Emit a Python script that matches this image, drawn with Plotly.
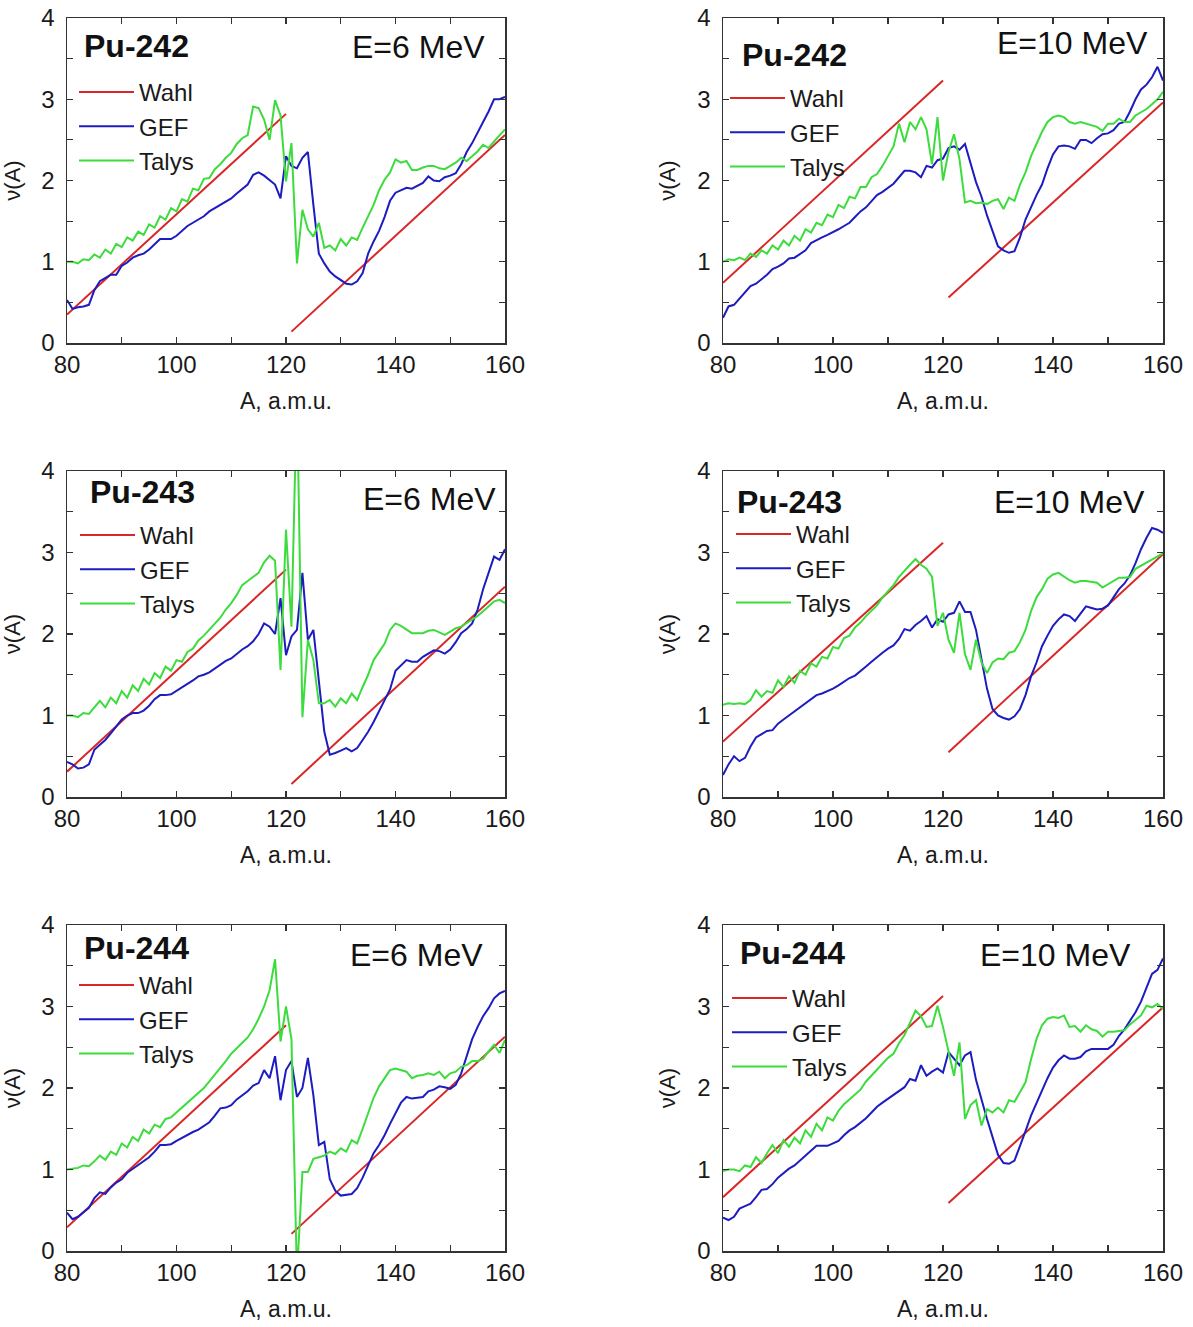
import plotly.graph_objects as go

# ---------------- data ----------------
A = list(range(80, 161))  # mass number A, a.m.u.

wahl_A = [80, 120, None, 121, 160]

# Pu-242, E=6 MeV
wahl_242_6 = [0.35, 2.82, None, 0.14, 2.56]
gef_242_6 = [0.53, 0.42, 0.44, 0.45, 0.47, 0.65, 0.76, 0.80, 0.84, 0.84,
             0.95, 0.99, 1.05, 1.08, 1.10, 1.15, 1.22, 1.28, 1.28, 1.28,
             1.32, 1.38, 1.44, 1.48, 1.52, 1.56, 1.62, 1.66, 1.70, 1.74,
             1.78, 1.84, 1.90, 1.95, 2.07, 2.10, 2.06, 2.00, 1.95, 1.78,
             2.30, 2.18, 2.15, 2.28, 2.35, 1.70, 1.10, 0.98, 0.88, 0.82,
             0.77, 0.73, 0.72, 0.76, 0.86, 1.10, 1.25, 1.38, 1.55, 1.75,
             1.85, 1.88, 1.91, 1.90, 1.94, 1.97, 2.05, 2.00, 1.99, 2.04,
             2.06, 2.09, 2.20, 2.35, 2.46, 2.60, 2.72, 2.85, 3.00, 3.00,
             3.03]
talys_242_6 = [1.00, 1.00, 0.98, 1.03, 1.02, 1.09, 1.05, 1.15, 1.10, 1.22,
               1.18, 1.30, 1.26, 1.37, 1.33, 1.46, 1.42, 1.56, 1.52, 1.66,
               1.62, 1.77, 1.74, 1.90, 1.88, 2.02, 2.03, 2.14, 2.20, 2.28,
               2.34, 2.45, 2.52, 2.56, 2.91, 2.89, 2.75, 2.50, 2.99, 2.80,
               1.99, 2.46, 0.98, 1.64, 1.40, 1.31, 1.48, 1.17, 1.20, 1.14,
               1.28, 1.20, 1.30, 1.27, 1.42, 1.55, 1.70, 1.88, 2.01, 2.10,
               2.26, 2.22, 2.24, 2.13, 2.13, 2.16, 2.18, 2.18, 2.15, 2.14,
               2.18, 2.22, 2.28, 2.24, 2.30, 2.36, 2.44, 2.40, 2.48, 2.55,
               2.63]

# Pu-242, E=10 MeV
wahl_242_10 = [0.74, 3.23, None, 0.56, 2.96]
gef_242_10 = [0.31, 0.45, 0.47, 0.55, 0.62, 0.70, 0.73, 0.78, 0.84, 0.91,
              0.94, 0.98, 1.04, 1.05, 1.10, 1.14, 1.23, 1.27, 1.30, 1.33,
              1.36, 1.40, 1.44, 1.48, 1.55, 1.62, 1.67, 1.74, 1.82, 1.86,
              1.91, 1.96, 2.04, 2.12, 2.12, 2.10, 2.04, 2.18, 2.16, 2.25,
              2.27, 2.40, 2.42, 2.38, 2.45, 2.22, 1.98, 1.80, 1.57, 1.38,
              1.19, 1.14, 1.11, 1.13, 1.30, 1.52, 1.68, 1.82, 1.95, 2.15,
              2.32, 2.42, 2.43, 2.42, 2.39, 2.50, 2.50, 2.46, 2.52, 2.57,
              2.58, 2.62, 2.70, 2.72, 2.85, 3.00, 3.12, 3.18, 3.27, 3.40,
              3.23]
talys_242_10 = [1.00, 1.03, 1.02, 1.05, 1.02, 1.10, 1.06, 1.14, 1.10, 1.20,
                1.15, 1.26, 1.20, 1.32, 1.26, 1.40, 1.36, 1.48, 1.45, 1.58,
                1.55, 1.70, 1.66, 1.80, 1.78, 1.92, 1.92, 2.04, 2.08, 2.18,
                2.30, 2.42, 2.70, 2.47, 2.72, 2.63, 2.78, 2.63, 2.20, 2.78,
                2.00, 2.35, 2.57, 2.26, 1.73, 1.75, 1.72, 1.73, 1.71, 1.75,
                1.77, 1.65, 1.79, 1.75, 1.95, 2.10, 2.30, 2.45, 2.60, 2.72,
                2.78, 2.80, 2.78, 2.72, 2.70, 2.72, 2.70, 2.68, 2.66, 2.61,
                2.70, 2.70, 2.76, 2.72, 2.72, 2.80, 2.84, 2.88, 2.94, 3.00,
                3.09]

# Pu-243, E=6 MeV
wahl_243_6 = [0.31, 2.79, None, 0.16, 2.58]
gef_243_6 = [0.43, 0.40, 0.35, 0.36, 0.40, 0.58, 0.64, 0.70, 0.78, 0.87,
             0.95, 1.00, 1.03, 1.03, 1.06, 1.12, 1.20, 1.25, 1.25, 1.26,
             1.30, 1.34, 1.38, 1.43, 1.48, 1.50, 1.53, 1.58, 1.63, 1.67,
             1.70, 1.76, 1.81, 1.85, 1.91, 2.00, 2.13, 2.09, 2.00, 2.44,
             1.74, 1.97, 2.05, 2.75, 1.93, 2.05, 1.40, 0.80, 0.52, 0.54,
             0.57, 0.60, 0.56, 0.60, 0.70, 0.80, 0.92, 1.05, 1.18, 1.32,
             1.55, 1.62, 1.68, 1.66, 1.66, 1.72, 1.76, 1.80, 1.79, 1.76,
             1.81, 1.90, 2.01, 2.06, 2.13, 2.30, 2.55, 2.75, 2.95, 2.91,
             3.04]
talys_243_6 = [1.00, 1.00, 0.98, 1.03, 1.02, 1.10, 1.18, 1.10, 1.22, 1.15,
               1.30, 1.22, 1.37, 1.30, 1.45, 1.38, 1.52, 1.46, 1.60, 1.55,
               1.68, 1.66, 1.78, 1.82, 1.92, 1.98, 2.05, 2.13, 2.20, 2.30,
               2.38, 2.48, 2.60, 2.65, 2.70, 2.75, 2.88, 2.96, 2.90, 1.56,
               3.28, 2.09, 5.00, 0.98, 1.93, 1.68, 1.15, 1.15, 1.19, 1.11,
               1.21, 1.15, 1.27, 1.19, 1.35, 1.50, 1.68, 1.78, 1.88, 2.05,
               2.13, 2.10, 2.05, 2.01, 2.01, 2.01, 2.04, 2.05, 2.02, 1.99,
               2.03, 2.07, 2.09, 2.13, 2.17, 2.22, 2.28, 2.34, 2.40, 2.42,
               2.38]

# Pu-243, E=10 MeV
wahl_243_10 = [0.68, 3.12, None, 0.55, 2.98]
gef_243_10 = [0.27, 0.40, 0.50, 0.44, 0.48, 0.62, 0.73, 0.77, 0.81, 0.82,
              0.90, 0.95, 1.00, 1.05, 1.09, 1.14, 1.19, 1.25, 1.27, 1.30,
              1.33, 1.37, 1.42, 1.46, 1.49, 1.54, 1.60, 1.66, 1.72, 1.77,
              1.82, 1.86, 1.94, 2.06, 2.04, 2.11, 2.16, 2.22, 2.08, 2.18,
              2.15, 2.24, 2.26, 2.40, 2.27, 2.27, 2.05, 1.70, 1.33, 1.08,
              1.00, 0.97, 0.95, 0.99, 1.08, 1.25, 1.48, 1.65, 1.85, 1.98,
              2.10, 2.18, 2.24, 2.22, 2.16, 2.25, 2.34, 2.32, 2.30, 2.31,
              2.35, 2.45, 2.55, 2.62, 2.72, 2.87, 3.04, 3.18, 3.30, 3.28,
              3.24]
talys_243_10 = [1.13, 1.15, 1.14, 1.15, 1.14, 1.19, 1.31, 1.23, 1.30, 1.28,
                1.43, 1.35, 1.48, 1.40, 1.55, 1.50, 1.64, 1.60, 1.72, 1.70,
                1.84, 1.82, 1.95, 1.98, 2.08, 2.14, 2.22, 2.28, 2.35, 2.45,
                2.52, 2.60, 2.70, 2.78, 2.85, 2.92, 2.85, 2.80, 2.70, 2.10,
                2.26, 1.93, 1.77, 2.26, 1.75, 1.56, 1.93, 1.65, 1.52, 1.65,
                1.70, 1.69, 1.77, 1.79, 1.90, 2.05, 2.28, 2.45, 2.55, 2.68,
                2.73, 2.75, 2.70, 2.66, 2.63, 2.65, 2.65, 2.64, 2.63, 2.57,
                2.61, 2.64, 2.69, 2.69, 2.70, 2.80, 2.84, 2.87, 2.92, 2.95,
                2.99]

# Pu-244, E=6 MeV
wahl_244_6 = [0.29, 2.77, None, 0.21, 2.63]
gef_244_6 = [0.47, 0.39, 0.42, 0.47, 0.53, 0.65, 0.72, 0.70, 0.78, 0.84,
             0.88, 0.96, 1.01, 1.06, 1.11, 1.15, 1.22, 1.30, 1.30, 1.31,
             1.35, 1.39, 1.43, 1.46, 1.49, 1.53, 1.58, 1.66, 1.75, 1.76,
             1.79, 1.86, 1.91, 1.96, 2.03, 2.06, 2.22, 2.12, 2.39, 1.85,
             2.22, 2.33, 1.89, 2.00, 2.37, 1.91, 1.30, 1.34, 0.88, 0.74,
             0.68, 0.69, 0.70, 0.77, 0.90, 1.05, 1.20, 1.30, 1.42, 1.56,
             1.70, 1.82, 1.89, 1.87, 1.88, 1.89, 1.96, 1.98, 2.02, 2.01,
             1.99, 2.04, 2.18, 2.40, 2.60, 2.75, 2.88, 2.98, 3.10, 3.16,
             3.19]
talys_244_6 = [1.00, 1.01, 1.02, 1.05, 1.04, 1.10, 1.17, 1.12, 1.22, 1.18,
               1.32, 1.27, 1.40, 1.35, 1.49, 1.44, 1.55, 1.52, 1.62, 1.64,
               1.70, 1.76, 1.82, 1.88, 1.95, 2.00, 2.08, 2.16, 2.24, 2.33,
               2.42, 2.49, 2.55, 2.62, 2.72, 2.85, 3.00, 3.20, 3.58, 2.57,
               3.00, 2.60, -0.30, 0.97, 0.97, 1.13, 1.15, 1.17, 1.22, 1.19,
               1.26, 1.22, 1.36, 1.32, 1.50, 1.70, 1.88, 2.02, 2.12, 2.22,
               2.24, 2.22, 2.20, 2.12, 2.15, 2.16, 2.18, 2.16, 2.20, 2.12,
               2.18, 2.20, 2.26, 2.28, 2.33, 2.33, 2.36, 2.45, 2.53, 2.43,
               2.59]

# Pu-244, E=10 MeV
wahl_244_10 = [0.66, 3.13, None, 0.59, 2.99]
gef_244_10 = [0.41, 0.38, 0.42, 0.52, 0.55, 0.58, 0.66, 0.75, 0.76, 0.82,
              0.90, 0.96, 1.01, 1.05, 1.11, 1.18, 1.24, 1.29, 1.29, 1.29,
              1.32, 1.35, 1.42, 1.48, 1.52, 1.57, 1.63, 1.70, 1.77, 1.82,
              1.87, 1.91, 1.96, 2.01, 2.11, 2.09, 2.28, 2.15, 2.20, 2.24,
              2.19, 2.44, 2.36, 2.28, 2.40, 2.44, 2.10, 1.85, 1.62, 1.40,
              1.18, 1.08, 1.07, 1.11, 1.28, 1.47, 1.66, 1.82, 1.98, 2.12,
              2.25, 2.34, 2.40, 2.36, 2.36, 2.38, 2.45, 2.48, 2.48, 2.48,
              2.48, 2.53, 2.64, 2.72, 2.82, 2.93, 3.06, 3.22, 3.40, 3.45,
              3.59]
talys_244_10 = [0.98, 1.00, 1.00, 0.98, 1.05, 1.03, 1.15, 1.08, 1.20, 1.30,
                1.20, 1.36, 1.28, 1.39, 1.32, 1.48, 1.40, 1.56, 1.48, 1.64,
                1.60, 1.72, 1.80, 1.86, 1.91, 1.98, 2.08, 2.15, 2.22, 2.30,
                2.37, 2.42, 2.55, 2.65, 2.80, 2.95, 2.88, 2.75, 2.76, 3.01,
                2.75, 2.46, 2.15, 2.56, 1.62, 1.79, 1.85, 1.54, 1.74, 1.70,
                1.76, 1.70, 1.85, 1.83, 1.95, 2.07, 2.35, 2.60, 2.77, 2.85,
                2.87, 2.86, 2.89, 2.75, 2.76, 2.69, 2.77, 2.72, 2.70, 2.63,
                2.69, 2.69, 2.70, 2.71, 2.78, 2.83, 2.89, 3.01, 2.99, 3.03,
                2.97]

isotopes = ["Pu-242", "Pu-242", "Pu-243", "Pu-243", "Pu-244", "Pu-244"]
energies = ["E=6 MeV", "E=10 MeV", "E=6 MeV", "E=10 MeV", "E=6 MeV", "E=10 MeV"]
series_names = ["Wahl", "GEF", "Talys"]
x_ticks = [80, 100, 120, 140, 160]
y_ticks = [0, 1, 2, 3, 4]

wahl_sets = [wahl_242_6, wahl_242_10, wahl_243_6, wahl_243_10, wahl_244_6, wahl_244_10]
gef_sets = [gef_242_6, gef_242_10, gef_243_6, gef_243_10, gef_244_6, gef_244_10]
talys_sets = [talys_242_6, talys_242_10, talys_243_6, talys_243_10, talys_244_6, talys_244_10]

# ---------------- styling / layout ----------------
OFF = 0                       # body margin removed via post_script
W, H = 1193, 1327
FONT = "Liberation Sans, Arial, sans-serif"
RED, BLUE, GREEN = "#d92626", "#1c1cc0", "#3ddc3d"
AX = "#333333"


def px_x(p):
    return (p - OFF) / W


def px_y(p):
    return 1 - (p - OFF) / H


col_px = [(67, 505), (723, 1163)]
row_px = [(18, 343), (471, 797), (925, 1251)]

iso_pos = [(0.034, 0.914), (0.039, 0.887), (0.048, 0.936), (0.027, 0.905), (0.034, 0.929), (0.034, 0.914)]
en_pos = [(0.959, 0.911), (0.970, 0.923), (0.984, 0.914), (0.964, 0.905), (0.954, 0.908), (0.932, 0.908)]
leg_px = [(80, 93), (731, 99), (81, 536), (737, 535), (80, 986), (733, 999)]
LEG_DX, LEG_DY = 6, 23

fig = go.Figure()
layout = dict(
    width=W, height=H, margin=dict(l=0, r=0, t=0, b=0, autoexpand=False),
    paper_bgcolor="white", plot_bgcolor="white",
    font=dict(family=FONT, color="#1a1a1a"),
    showlegend=True, hovermode=False,
)
annotations = []

for i in range(6):
    r, c = divmod(i, 2)
    n = "" if i == 0 else str(i + 1)
    xa, ya = "x" + n, "y" + n
    leg = "legend" + n
    x0, x1 = col_px[c]
    yt, yb = row_px[r]
    xdom = [px_x(x0), px_x(x1)]
    ydom = [px_y(yb), px_y(yt)]

    fig.add_trace(go.Scatter(x=wahl_A, y=wahl_sets[i], mode="lines", name=series_names[0],
                             line=dict(color=RED, width=2), xaxis=xa, yaxis=ya, legend=leg,
                             connectgaps=False))
    fig.add_trace(go.Scatter(x=A, y=gef_sets[i], mode="lines", name=series_names[1],
                             line=dict(color=BLUE, width=2), xaxis=xa, yaxis=ya, legend=leg))
    fig.add_trace(go.Scatter(x=A, y=talys_sets[i], mode="lines", name=series_names[2],
                             line=dict(color=GREEN, width=2), xaxis=xa, yaxis=ya, legend=leg))

    common = dict(showline=True, linecolor=AX, linewidth=1.5, mirror="ticks",
                  ticks="inside", ticklen=6, tickwidth=1.2, tickcolor=AX,
                  showgrid=False, zeroline=False, fixedrange=True, automargin=False,
                  ticklabeloverflow="allow",
                  tickfont=dict(size=24, family=FONT, color="#1a1a1a"))
    layout["xaxis" + n] = dict(common, domain=xdom, range=[80, 160], anchor=ya,
                               tickvals=x_ticks, ticklabelstandoff=0,
                               minor=dict(ticks="inside", ticklen=6, dtick=10, tick0=80,
                                          tickcolor=AX, tickwidth=1.2, showgrid=False),
                               title=dict(text="A, a.m.u.", font=dict(size=23, family=FONT)))
    layout["yaxis" + n] = dict(common, domain=ydom, range=[0, 4], anchor=xa,
                               tickvals=y_ticks, ticklabelstandoff=6,
                               minor=dict(ticks="inside", ticklen=6, dtick=0.5, tick0=0,
                                          tickcolor=AX, tickwidth=1.2, showgrid=False),
                               title=dict(text="\u03bd(A)", font=dict(size=22, family=FONT)))
    lx, ly = leg_px[i]
    layout[leg] = dict(x=px_x(lx - LEG_DX), y=px_y(ly - LEG_DY),
                       xanchor="left", yanchor="top", bgcolor="rgba(0,0,0,0)",
                       borderwidth=0, font=dict(size=24, family=FONT, color="#1a1a1a"),
                       itemwidth=55, tracegroupgap=0)

    annotations.append(dict(text="<b>" + isotopes[i] + "</b>", xref=xa + " domain", yref=ya + " domain",
                            x=iso_pos[i][0], y=iso_pos[i][1], xanchor="left", yanchor="middle",
                            showarrow=False, font=dict(size=32, family=FONT, color="#111")))
    annotations.append(dict(text=energies[i], xref=xa + " domain", yref=ya + " domain",
                            x=en_pos[i][0], y=en_pos[i][1], xanchor="right", yanchor="middle",
                            showarrow=False, font=dict(size=32, family=FONT, color="#111")))

layout["annotations"] = annotations
fig.update_layout(**layout)
fig.write_html("out.html", config={"displayModeBar": False, "staticPlot": True},
               post_script="document.body.style.margin='0';document.body.style.overflow='hidden';")
